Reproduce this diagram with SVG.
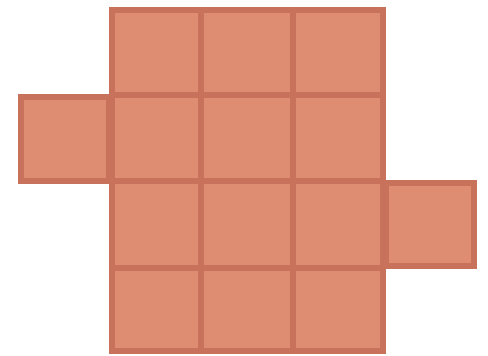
<svg xmlns="http://www.w3.org/2000/svg" width="488" height="356" viewBox="0 0 488 356">
<style>
.c{fill:#DE8C72;stroke:#C8725C;stroke-width:6}
.i{fill:#E0907A;opacity:0.6}
</style>
<rect width="488" height="356" fill="#ffffff"/>
<g id="grid">
<rect class="c" x="112" y="10" width="89" height="85"/>
<rect class="c" x="201" y="10" width="92" height="85"/>
<rect class="c" x="293" y="10" width="90" height="85"/>
<rect class="c" x="21" y="97" width="88" height="84"/>
<rect class="c" x="112" y="95" width="89" height="86"/>
<rect class="c" x="201" y="95" width="92" height="86"/>
<rect class="c" x="293" y="95" width="90" height="86"/>
<rect class="c" x="112" y="181" width="89" height="87"/>
<rect class="c" x="201" y="181" width="92" height="87"/>
<rect class="c" x="293" y="181" width="90" height="87"/>
<rect class="c" x="386" y="183" width="88" height="83"/>
<rect class="c" x="112" y="268" width="89" height="83"/>
<rect class="c" x="201" y="268" width="92" height="83"/>
<rect class="c" x="293" y="268" width="90" height="83"/>
</g>
</svg>
